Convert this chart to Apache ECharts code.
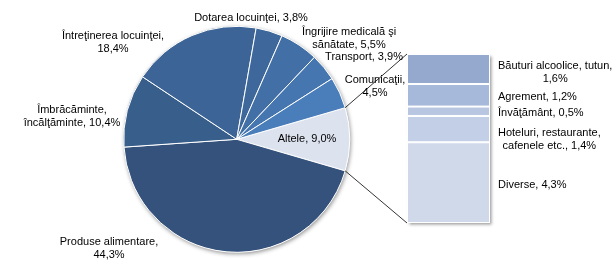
<!DOCTYPE html>
<html>
<head>
<meta charset="utf-8">
<script src="https://cdn.jsdelivr.net/npm/echarts@6/dist/echarts.min.js"></script>
<style>
html,body{margin:0;padding:0;background:#fff;}
#c{width:616px;height:270px;}
</style>
</head>
<body>
<div id="c"></div>
<script>
// Pie categories, clockwise starting from the "Altele" slice
const pieNames = ['Altele', 'Produse alimentare', 'Îmbrăcăminte,\nîncălţăminte', 'Întreţinerea locuinţei', 'Dotarea locuinţei', 'Îngrijire medicală şi\nsănătate', 'Transport', 'Comunicaţii'];
const pieValues = [9.0, 44.3, 10.4, 18.4, 3.8, 5.5, 3.9, 4.5];
const pieValueOnNewLine = [false, true, false, true, false, false, false, true];
const pieColors = ['#dce3ef', '#34527b', '#385e8c', '#3d6496', '#3e689c', '#426fa5', '#4676af', '#4a7ebb'];

// Breakdown of "Altele" (top to bottom)
const barNames = ['Băuturi alcoolice, tutun,', 'Agrement', 'Învăţământ', 'Hoteluri, restaurante,\ncafenele etc.', 'Diverse'];
const barValues = [1.6, 1.2, 0.5, 1.4, 4.3];
const barValueOnNewLine = [true, false, false, false, false];
const barColors = ['#95a9cf', '#a7b9da', '#b8c6e2', '#c3cfe6', '#d0d9e9'];

// label layout (block centres) for the pie labels
const pieLabelPos = [[307, 139], [109, 248], [72, 116], [113, 42], [251, 18], [349, 38], [364, 57], [375, 86]];
const barLabelShift = [3, 1.5, 2, 10, 2];

const FONT = 'Liberation Sans, Arial, sans-serif';
const fmt = v => v.toFixed(1).replace('.', ',') + '%';
const pieSum = pieValues.reduce((a, b) => a + b, 0);
const barSum = barValues.reduce((a, b) => a + b, 0);

const chart = echarts.init(document.getElementById('c'), null, {renderer: 'canvas'});

const series = [{
  type: 'pie',
  center: [236.7, 139.3],
  radius: 113,
  startAngle: pieValues[0] / pieSum * 180,
  clockwise: true,
  silent: true,
  z: 3,
  itemStyle: {borderColor: '#fff', borderWidth: 1},
  label: {
    show: true,
    position: 'inside',
    overflow: 'none',
    fontFamily: FONT, fontSize: 11, color: '#000', lineHeight: 13,
    formatter: p => p.name + (pieValueOnNewLine[p.dataIndex] ? ',\n' : ', ') + fmt(p.value)
  },
  labelLine: {show: false},
  labelLayout: p => ({
    x: pieLabelPos[p.dataIndex][0],
    y: pieLabelPos[p.dataIndex][1],
    align: 'center',
    verticalAlign: 'middle'
  }),
  data: pieNames.map((n, i) => ({name: n, value: pieValues[i], itemStyle: {color: pieColors[i]}}))
}];

barNames.forEach((n, i) => {
  series.push({
    type: 'bar',
    name: n,
    stack: 'o',
    barWidth: '100%',
    silent: true,
    itemStyle: {color: barColors[i], borderColor: '#fff', borderWidth: 1},
    label: {
      show: true,
      position: 'right',
      distance: 8,
      fontFamily: FONT, fontSize: 11, color: '#000', lineHeight: 13,
      formatter: () => n + (barValueOnNewLine[i] ? '\n' : ', ') + fmt(barValues[i])
    },
    labelLayout: p => ({
      x: p.labelRect.x + p.labelRect.width / 2,
      y: p.labelRect.y + p.labelRect.height / 2 + barLabelShift[i],
      align: 'center',
      verticalAlign: 'middle'
    }),
    data: [barValues[i]]
  });
});

chart.setOption({
  animation: false,
  backgroundColor: '#fff',
  grid: {left: 407, top: 54, width: 83, height: 169},
  xAxis: {type: 'category', data: ['Altele'], show: false, boundaryGap: true},
  yAxis: {type: 'value', min: 0, max: barSum, inverse: true, show: false},
  series: series
});

// connector lines and shadows derived from the laid-out marks
const model = chart.getModel();
const pieData = model.getSeriesByIndex(0).getData();
const L = pieData.getItemLayout(0);
const p1 = [L.cx + L.r * Math.cos(L.startAngle), L.cy + L.r * Math.sin(L.startAngle)];
const p2 = [L.cx + L.r * Math.cos(L.endAngle), L.cy + L.r * Math.sin(L.endAngle)];
const topL = model.getSeriesByIndex(1).getData().getItemLayout(0);
const botL = model.getSeriesByIndex(barNames.length).getData().getItemLayout(0);
const bx = Math.min(topL.x, topL.x + topL.width);
const bw = Math.abs(topL.width);
const by0 = Math.min(topL.y, topL.y + topL.height);
const by1 = Math.max(botL.y, botL.y + botL.height);
const pA = [p1, p2].sort((a, b) => a[1] - b[1]);

chart.setOption({
  graphic: [
    {type: 'circle', z: 0, silent: true, shape: {cx: L.cx, cy: L.cy, r: L.r},
      style: {fill: '#fff', shadowBlur: 4, shadowColor: 'rgba(0,0,0,0.45)', shadowOffsetX: 1, shadowOffsetY: 1.5}},
    {type: 'rect', z: 0, silent: true, shape: {x: bx, y: by0, width: bw, height: by1 - by0},
      style: {fill: '#fff', shadowBlur: 3, shadowColor: 'rgba(0,0,0,0.4)', shadowOffsetX: 1.5, shadowOffsetY: 1.5}},
    {type: 'line', z: 10, silent: true, shape: {x1: pA[0][0], y1: pA[0][1], x2: bx, y2: by0},
      style: {stroke: '#000', lineWidth: 0.8}},
    {type: 'line', z: 10, silent: true, shape: {x1: pA[1][0], y1: pA[1][1], x2: bx, y2: by1},
      style: {stroke: '#000', lineWidth: 0.8}}
  ]
});
</script>
</body>
</html>
